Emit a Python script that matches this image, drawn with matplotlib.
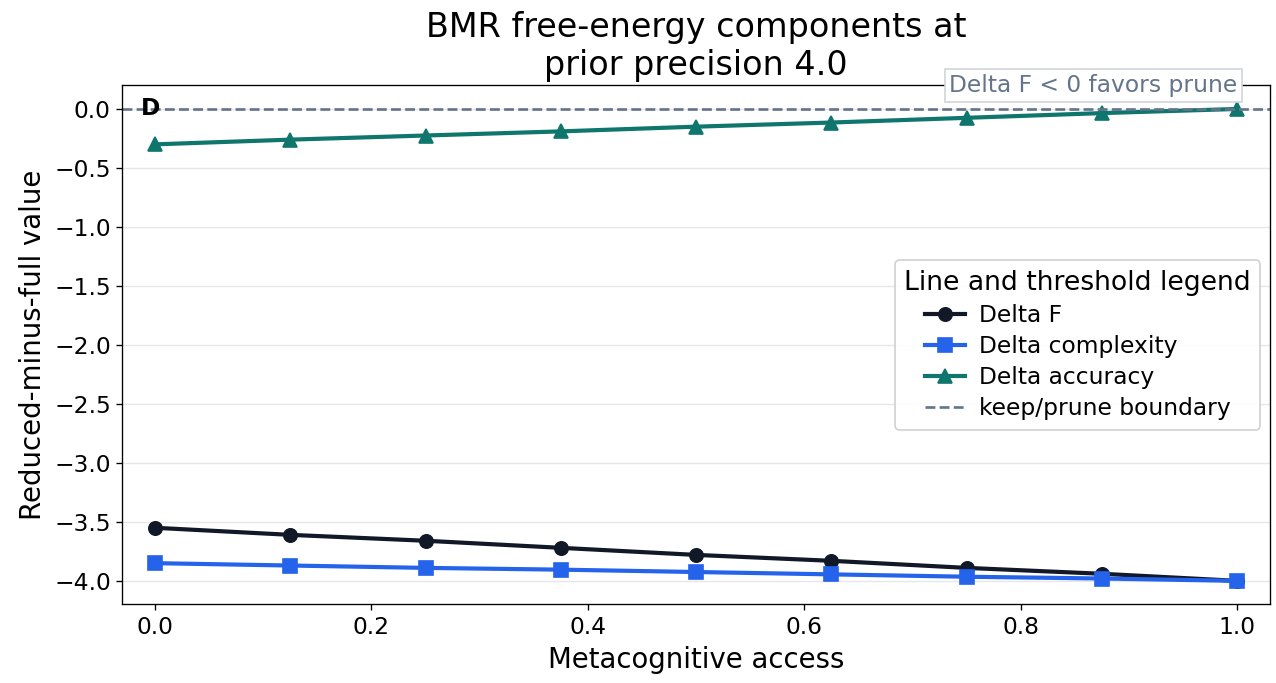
import numpy as np
import matplotlib
matplotlib.use("Agg")
import matplotlib.pyplot as plt

# metacognitive access levels and the reduced-minus-full components
access = [0.0, 0.125, 0.25, 0.375, 0.5, 0.625, 0.75, 0.875, 1.0]
delta_f = [-3.55, -3.61, -3.66, -3.72, -3.78, -3.83, -3.89, -3.94, -4.0]
delta_complexity = [-3.85, -3.87, -3.89, -3.905, -3.925, -3.945, -3.965, -3.98, -4.0]
delta_accuracy = [-0.30, -0.26, -0.225, -0.19, -0.15, -0.115, -0.075, -0.035, 0.0]
boundary = 0.0

fig, ax = plt.subplots(figsize=(1276 / 120, 683 / 120), dpi=120)

ax.plot(access, delta_f, color="#111827", marker="o", lw=2.5, ms=8, label="Delta F")
ax.plot(access, delta_complexity, color="#2563eb", marker="s", lw=2.5, ms=8,
        label="Delta complexity")
ax.plot(access, delta_accuracy, color="#0f766e", marker="^", lw=2.5, ms=8,
        label="Delta accuracy")
ax.axhline(boundary, color="#64748b", ls="--", lw=1.6, label="keep/prune boundary")

ax.set_xlim(-0.03, 1.03)
ax.set_ylim(-4.2, 0.2)
ax.grid(axis="y", color="#e5e7eb", lw=0.8)
ax.set_axisbelow(True)

ax.set_title("BMR free-energy components at\nprior precision 4.0", fontsize=20)
ax.set_xlabel("Metacognitive access", fontsize=16.5)
ax.set_ylabel("Reduced-minus-full value", fontsize=16.5)
ax.tick_params(labelsize=14)

ax.text(0.016, 0.978, "D", transform=ax.transAxes, fontsize=14,
        fontweight="bold", va="top", ha="left")
ax.text(0.972, 1.0, "Delta F < 0 favors prune", transform=ax.transAxes,
        fontsize=14, color="#64748b", ha="right", va="center",
        bbox=dict(boxstyle="square,pad=0.2", fc="white", ec="#d1d5db"))

leg = ax.legend(title="Line and threshold legend", loc="center right",
                fontsize=14, title_fontsize=16, framealpha=0.9,
                handlelength=1.7, handletextpad=0.6, labelspacing=0.35,
                borderaxespad=0.4)

fig.subplots_adjust(left=0.096, right=0.995, top=0.875, bottom=0.115)
fig.savefig("out.png", dpi=120)
